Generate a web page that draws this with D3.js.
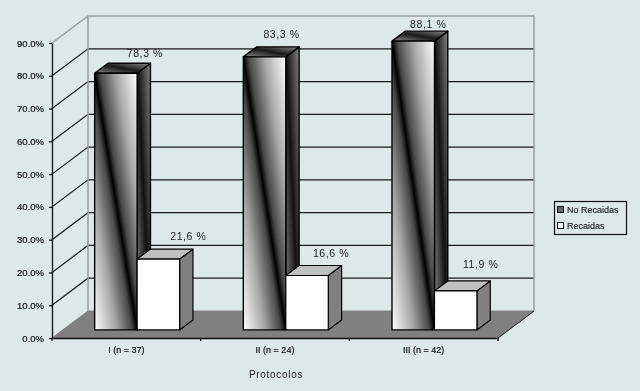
<!DOCTYPE html>
<html><head><meta charset="utf-8">
<script src="https://cdn.jsdelivr.net/npm/d3@7"></script>
<style>html,body{margin:0;padding:0;background:#dde8e8;overflow:hidden}svg{display:block;filter:blur(0.35px)}text{font-family:"Liberation Sans",Arial,sans-serif;fill:#222}</style>
</head><body><svg id="c" width="640" height="391"></svg>
<script>
const categories = ["I (n = 37)", "II (n = 24)", "III (n = 42)"];
const seriesNames = ["No Recaidas", "Recaidas"];
const noRecaidas = [78.3, 83.3, 88.1];
const recaidas = [21.6, 16.6, 11.9];
const noRecaidasLabels = ["78,3 %", "83,3 %", "88,1 %"];
const recaidasLabels = ["21,6 %", "16,6 %", "11,9 %"];
const yTicks = [0, 10, 20, 30, 40, 50, 60, 70, 80, 90];

const labelShift = {
  "No Recaidas": [[29, -16], [17, -19], [15, -13]],
  "Recaidas": [[30, -19], [24, -18], [25, -23]]
};

const svg = d3.select("#c");
const x = d3.scaleBand().domain(categories).range([52, 498]);
const xs = d3.scaleBand().domain(seriesNames).range([0, x.bandwidth()]).paddingInner(0).paddingOuter(0.75);
const y = d3.scaleLinear().domain([0, 90]).range([338, 43]);
const DX = 36, DY = 27;
const proj = (px, v, d) => [px + d * DX, y(v) - d * DY];
const path = pts => "M" + pts.map(p => p.join(",")).join("L") + "Z";

const defs = svg.append("defs");
function grad(id, stops) {
  const g = defs.append("linearGradient").attr("id", id)
    .attr("x1", 0).attr("y1", 1).attr("x2", 1).attr("y2", 0);
  stops.forEach(([o, c]) => g.append("stop").attr("offset", o).attr("stop-color", c));
}
grad("front", [[0, "#fff"], [0.25, "#a8a8a8"], [0.44, "#484848"], [0.5, "#000"], [0.56, "#484848"], [0.75, "#a8a8a8"], [1, "#fff"]]);
grad("side", [[0, "#8a8a8a"], [0.5, "#111"], [1, "#808080"]]);
grad("top", [[0, "#8a8a8a"], [0.5, "#1a1a1a"], [1, "#8a8a8a"]]);

const root = svg.append("g");

// floor
root.append("path")
  .attr("d", path([proj(52, 0, 0), proj(52, 0, 1), proj(498, 0, 1), proj(498, 0, 0)]))
  .attr("fill", "#808080").attr("stroke", "#808080");

// gridlines
const inner = yTicks.filter(t => t > 0 && t < 90);
root.selectAll("path.grid").data(inner).join("path").attr("class", "grid")
  .attr("fill", "none").attr("stroke", "#1a1a1a").attr("stroke-width", 1.2)
  .attr("d", t => {
    const a = proj(52, t, 0), b = proj(52, t, 1), c = proj(498, t, 1);
    return "M" + a + "L" + b + "L" + c;
  });

// wall borders
root.append("path").attr("fill", "none").attr("stroke", "#979d9d").attr("stroke-width", 1.5)
  .attr("d", () => {
    const a = proj(52, 90, 0), b = proj(52, 90, 1), c = proj(498, 90, 1), d = proj(498, 0, 1), e = proj(52, 0, 1);
    return "M" + a + "L" + b + "L" + c + "L" + d + "M" + b + "L" + e;
  });
// right floor edge
root.append("path").attr("fill", "none").attr("stroke", "#222").attr("stroke-width", 1)
  .attr("d", "M" + proj(498, 0, 0) + "L" + proj(498, 0, 1));

// bars
const D0 = 0.3, D1 = 0.67;
const data = categories.map((c, i) => ({ c, i, vals: [
  { s: seriesNames[0], v: noRecaidas[i], label: noRecaidasLabels[i] },
  { s: seriesNames[1], v: recaidas[i], label: recaidasLabels[i] }
]}));
data.forEach(cat => {
  cat.vals.forEach(b => {
    const x0 = x(cat.c) + xs(b.s), x1 = x0 + xs.bandwidth();
    const dark = b.s === seriesNames[0];
    const g = root.append("g").attr("stroke", "#000").attr("stroke-width", dark ? 1.4 : 1.2).attr("stroke-linejoin", "round");
    g.append("path").attr("fill", dark ? "url(#side)" : "#808080")
      .attr("d", path([proj(x1, 0, D0), proj(x1, 0, D1), proj(x1, b.v, D1), proj(x1, b.v, D0)]));
    g.append("path").attr("fill", dark ? "url(#top)" : "#c0c0c0")
      .attr("d", path([proj(x0, b.v, D0), proj(x0, b.v, D1), proj(x1, b.v, D1), proj(x1, b.v, D0)]));
    g.append("path").attr("fill", dark ? "url(#front)" : "#fff")
      .attr("d", path([proj(x0, 0, D0), proj(x0, b.v, D0), proj(x1, b.v, D0), proj(x1, 0, D0)]));
  });
});
data.forEach(cat => {
  cat.vals.forEach(b => {
    const x0 = x(cat.c) + xs(b.s);
    const p = proj(x0 + xs.bandwidth() / 2, b.v, D0);
    const sh = labelShift[b.s][cat.i];
    root.append("text").attr("x", p[0] + sh[0]).attr("y", p[1] + sh[1])
      .attr("text-anchor", "middle").attr("font-size", 10.5).attr("letter-spacing", 0.6).text(b.label);
  });
});

// axes
const yAxis = d3.axisLeft(y).tickValues(yTicks).tickSize(3).tickSizeOuter(0).tickPadding(5)
  .tickFormat(d => d3.format(".1f")(d) + "%");
const gy = root.append("g").attr("transform", "translate(52,0)").call(yAxis);
gy.selectAll("text").attr("font-size", 9.5).attr("font-family", '"Liberation Sans"').style("fill", "#111").attr("stroke", "#111").attr("stroke-width", 0.2);
gy.selectAll("line,path").attr("stroke", "#111").attr("stroke-width", 1.3);

const xAxis = d3.axisBottom(x).tickSize(0).tickPadding(9);
const gx = root.append("g").attr("transform", "translate(0,338)").call(xAxis);
gx.selectAll("text").attr("font-size", 9).attr("font-family", '"Liberation Sans"').style("fill", "#111").attr("stroke", "#111").attr("stroke-width", 0.2);
gx.selectAll("path").attr("stroke", "#111").attr("stroke-width", 1.3);
gx.selectAll("line.sep").data(x.domain().map(c => x(c)).concat([498])).join("line").attr("class", "sep")
  .attr("x1", d => d).attr("x2", d => d).attr("y1", 0).attr("y2", 3)
  .attr("stroke", "#111").attr("stroke-width", 1.3);

root.append("text").attr("x", 276).attr("y", 378).attr("text-anchor", "middle")
  .attr("font-size", 10).attr("letter-spacing", 0.7).text("Protocolos");

// legend
const lg = root.append("g").attr("transform", "translate(554,201)");
lg.append("rect").attr("x", 0.5).attr("y", 0.5).attr("width", 72).attr("height", 33)
  .attr("fill", "none").attr("stroke", "#111").attr("stroke-width", 1.2);
seriesNames.forEach((s, i) => {
  const row = lg.append("g").attr("transform", `translate(3.5,${5.5 + i * 16})`);
  row.append("rect").attr("width", 6).attr("height", 6)
    .attr("fill", i === 0 ? "#666" : "#fff").attr("stroke", "#111");
  row.append("text").attr("x", 9.5).attr("y", 6.5).attr("font-size", 9).attr("stroke", "#222").attr("stroke-width", 0.15).text(s);
});
</script></body></html>
